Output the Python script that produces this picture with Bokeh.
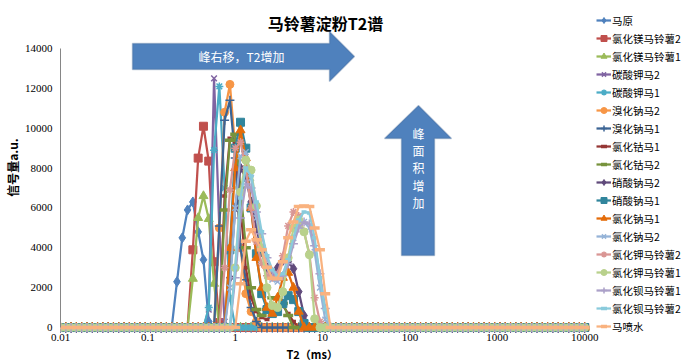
import numpy as np
from bokeh.plotting import figure
from bokeh.models import (ColumnDataSource, FixedTicker, Legend, LegendItem,
                          Label, PolyAnnotation, Title)
from bokeh.embed import file_html
from bokeh.resources import INLINE

# ---------------- data ----------------
# instrument T2 grid (ms), 100 log-spaced relaxation times
T2_GRID = np.logspace(-2, 4, 100)

x_ticks = [0.01, 0.1, 1, 10, 100, 1000, 10000]
x_tick_labels = ["0.01", "0.1", "1", "10", "100", "1000", "10000"]
y_ticks = [0, 2000, 4000, 6000, 8000, 10000, 12000, 14000]

names = ["马原", "氯化镁马铃薯2", "氯化镁马铃薯1", "碳酸钾马2", "碳酸钾马1",
         "溴化钠马2", "溴化钠马1", "氯化钴马1", "氯化钴马2", "硝酸钠马2",
         "硝酸钠马1", "氯化钠马1", "氯化钠马2", "氯化钾马铃薯2", "氯化钾马铃薯1",
         "氯化钡马铃薯1", "氯化钡马铃薯2", "马喷水"]

# first grid index of the non-zero part of each spectrum
starts = [21, 24, 24, 27, 27, 29, 29, 30, 30, 31, 31, 31, 31, 30, 32, 32, 32, 33]

ma_yuan = [0, 2300, 4500, 5900, 6300, 4800, 3400, 300, 0]
mgcl_2 = [0, 3900, 8500, 10100, 8350, 3300, 250, 0]
mgcl_1 = [0, 2450, 5500, 6600, 5450, 2200, 0]
k2co3_2 = [0, 900, 12500, 5000, 300, 0]
k2co3_1 = [0, 1000, 8900, 12100, 7000, 1500, 0]
nabr_2 = [0, 5000, 10800, 12200, 9000, 4000, 1700, 800, 300, 0]
nabr_1 = [0, 5100, 10400, 11400, 8500, 4000, 2400, 1000, 300, 0]
cocl_1 = [0, 6600, 9500, 9300, 6000, 3000, 1500, 800, 500, 400, 650, 1000, 1100, 700, 300, 0]
cocl_2 = [0, 5900, 9400, 9700, 7000, 4000, 2000, 900, 600, 900, 1500, 1500, 1200, 600, 0]
nano3_2 = [0, 2500, 6000, 8000, 7500, 6300, 5000, 3800, 3000, 2700, 3000, 3360, 3300, 2950, 1800, 600, 0]
nano3_1 = [0, 3900, 9000, 10300, 9000, 6000, 3700, 1700, 900, 700, 800, 1200, 1600, 1400, 800, 200, 0]
nacl_1 = [0, 4000, 8000, 9900, 8500, 6000, 3500, 2000, 1000, 700, 1500, 2500, 2750, 2000, 800, 0]
nacl_2 = [0, 2000, 6000, 8600, 8800, 7500, 5500, 4000, 3000, 2400, 2300, 2600, 3500, 4500, 5100, 5300, 5000, 3800, 2000, 400, 0]
kcl_2 = [0, 3000, 6900, 9000, 9300, 8000, 6000, 4300, 3200, 2600, 2500, 2700, 3600, 5100, 5800, 5600, 4800, 3700, 1500, 300, 0]
kcl_1 = [0, 3000, 6800, 8400, 7900, 6100, 4000, 2000, 1100, 1000, 1800, 3500, 5000, 5400, 4800, 3650, 440, 0]
bacl_1 = [0, 2500, 5500, 7200, 7000, 5800, 4700, 3500, 2800, 2500, 2600, 3200, 4200, 5000, 5300, 5200, 4100, 2700, 950, 0]
bacl_2 = [0, 3000, 6500, 8000, 7600, 6300, 4800, 3600, 2900, 2600, 2700, 3400, 4500, 5400, 5800, 5750, 4500, 2500, 900, 0]
ma_penshui = [0, 2200, 4330, 4900, 4400, 3900, 3030, 2470, 2450, 3300, 4500, 5300, 6070, 6100, 6070, 5000, 3900, 1700, 0]

values = [ma_yuan, mgcl_2, mgcl_1, k2co3_2, k2co3_1, nabr_2, nabr_1, cocl_1, cocl_2,
          nano3_2, nano3_1, nacl_1, nacl_2, kcl_2, kcl_1, bacl_1, bacl_2, ma_penshui]

# ---------------- styles ----------------
colors = ["#4F81BD", "#C0504D", "#9BBB59", "#8064A2", "#4BACC6", "#F79646",
          "#3C6494", "#953735", "#77933C", "#604A7B", "#31859C", "#E46C0A",
          "#95B3D7", "#D99694", "#B9D18C", "#ABA0C8", "#8ACBDC", "#F9B27F"]
markers = ["diamond", "square", "triangle", "x", "asterisk", "circle", "cross", "dash", "dash",
           "diamond", "square", "triangle", "x", "asterisk", "circle", "cross", "dash", "dash"]
msizes = {"diamond": 10, "square": 8, "triangle": 9, "x": 8, "asterisk": 8,
          "circle": 8, "cross": 9}

CJK = "Noto Sans CJK SC"
SERIF = "Liberation Serif"

# frame: left 59 .. right edge of canvas, top of canvas .. 334
p = figure(width=694, height=361, x_axis_type="log", x_range=(0.01, 180800),
           y_range=(-350, 16409), output_backend="svg", toolbar_location=None,
           min_border_left=59, min_border_right=0, min_border_top=0,
           min_border_bottom=27)
p.outline_line_color = None
p.xgrid.visible = False
p.ygrid.visible = False
p.background_fill_color = "white"
p.border_fill_color = "white"

for ax in (p.xaxis[0], p.yaxis[0]):
    ax.major_tick_line_color = None
    ax.minor_tick_line_color = None
    ax.major_tick_out = 0
    ax.major_tick_in = 0
    ax.minor_tick_out = 0
    ax.minor_tick_in = 0
    ax.major_label_text_font = SERIF
    ax.major_label_text_font_size = "11px"
    ax.major_label_text_color = "black"
    ax.axis_label_text_color = "black"
    ax.axis_label_text_font = CJK
    ax.axis_label_text_font_style = "bold"

xa = p.xaxis[0]
xa.ticker = FixedTicker(ticks=x_ticks)
xa.major_label_overrides = {t: l for t, l in zip(x_ticks, x_tick_labels)}
xa.major_label_standoff = -1
xa.axis_line_color = None
xa.bounds = (0.01, 10000)

ya = p.yaxis[0]
ya.ticker = FixedTicker(ticks=y_ticks)
ya.major_label_standoff = 8
ya.axis_line_color = "#868686"
ya.bounds = (0, 14000)
ya.axis_label = "信号量a.u."
ya.axis_label_text_font_size = "12px"
ya.axis_label_standoff = 1

# x-axis title, placed under the tick labels
p.add_layout(Title(text="T2（ms）", align="left", offset=226, standoff=0,
                   text_font=CJK, text_font_size="11px", text_font_style="bold",
                   text_color="black"), "below")

items = []
for i, name in enumerate(names):
    amp = np.zeros(len(T2_GRID))
    amp[starts[i]:starts[i] + len(values[i])] = values[i]
    src = ColumnDataSource(dict(t2=T2_GRID, amp=amp))
    c = colors[i]
    r_line = p.line("t2", "amp", source=src, line_color=c, line_width=2.25)
    m = markers[i]
    if m == "dash":
        long_dash = (i % 9 == 8)
        r_m = p.scatter("t2", "amp", source=src, marker="dash",
                        size=10 if long_dash else 5, line_color=c,
                        line_width=3.5)
    elif m in ("x", "asterisk", "cross"):
        r_m = p.scatter("t2", "amp", source=src, marker=m, size=msizes[m],
                        line_color=c, line_width=1.5)
    else:
        r_m = p.scatter("t2", "amp", source=src, marker=m, size=msizes[m],
                        fill_color=c, line_color=c)
    items.append(LegendItem(label=name, renderers=[r_line, r_m]))

# ---------------- annotations (screen coords relative to frame) ----------------
FX0, FY0 = 59, 334   # frame left / bottom in page pixels


def sx(px):
    return px - FX0


def sy(py):
    return FY0 - py


legend = Legend(items=items, location=(sx(595), sy(335)), orientation="vertical",
                label_text_font=CJK, label_text_font_size="10.5px",
                label_text_color="black", glyph_width=15, glyph_height=18,
                label_height=18, label_standoff=1, spacing=0, padding=0,
                margin=0, border_line_color=None, background_fill_alpha=0)
p.add_layout(legend, "center")

arrow_h_px = [(131, 43), (328, 43), (328, 31), (353, 56), (328, 81), (328, 69), (131, 69)]
arrow_v_px = [(417, 105), (450, 138), (433, 138), (433, 255), (400, 255), (400, 138), (383, 138)]
for shape in (arrow_h_px, arrow_v_px):
    p.add_layout(PolyAnnotation(xs=[sx(a) for a, b in shape], ys=[sy(b) for a, b in shape],
                                xs_units="screen", ys_units="screen",
                                fill_color="#4F81BD", fill_alpha=1.0,
                                line_color="#385D8A", line_width=1.5))

p.add_layout(Label(x=sx(240), y=sy(56), x_units="screen", y_units="screen",
                   text="峰右移，T2增加", text_color="white", text_font=CJK,
                   text_font_size="12px", text_align="center", text_baseline="middle"))
for j, ch in enumerate("峰面积增加"):
    p.add_layout(Label(x=sx(417), y=sy(133 + 17.2 * j), x_units="screen", y_units="screen",
                       text=ch, text_color="white", text_font=CJK, text_font_size="12px",
                       text_align="center", text_baseline="middle"))

p.add_layout(Label(x=sx(324), y=sy(22), x_units="screen", y_units="screen",
                   text="马铃薯淀粉T2谱", text_color="black", text_font=CJK,
                   text_font_size="16px", text_font_style="bold",
                   text_align="center", text_baseline="middle"))

open("out.html", "w").write(file_html(p, INLINE))
